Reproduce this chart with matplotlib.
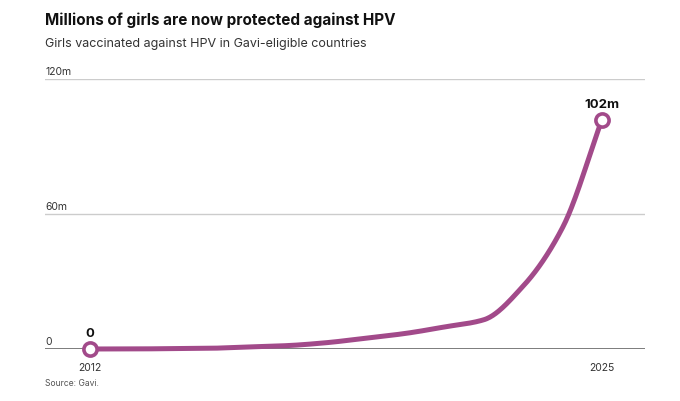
import matplotlib.pyplot as plt
import numpy as np

plt.rcParams["font.family"] = ["Inter", "DejaVu Sans"]

# data (millions of girls vaccinated)
years = [2012, 2013, 2014, 2015, 2016, 2017, 2018, 2019, 2020, 2021, 2022, 2023, 2024, 2025]
girls_m = [0, 0.02, 0.15, 0.3, 0.9, 1.5, 2.8, 4.8, 6.9, 9.8, 13.0, 28, 54, 102]
y_ticks = [0, 60, 120]
y_labels = ["0", "60m", "120m"]

LINE = "#a24a8a"


def monotone_curve(x, y, n=40):
    # Fritsch-Carlson monotone cubic, just for drawing the smooth line
    x = np.asarray(x, float)
    y = np.asarray(y, float)
    h = np.diff(x)
    d = np.diff(y) / h
    m = np.zeros_like(y)
    m[0], m[-1] = d[0], d[-1]
    for i in range(1, len(x) - 1):
        if d[i - 1] * d[i] > 0:
            w1 = 2 * h[i] + h[i - 1]
            w2 = h[i] + 2 * h[i - 1]
            m[i] = (w1 + w2) / (w1 / d[i - 1] + w2 / d[i])
    xs, ys = [], []
    for i in range(len(x) - 1):
        t = np.linspace(0, 1, n, endpoint=False)
        h00 = 2 * t**3 - 3 * t**2 + 1
        h10 = t**3 - 2 * t**2 + t
        h01 = -2 * t**3 + 3 * t**2
        h11 = t**3 - t**2
        xs.append(x[i] + t * h[i])
        ys.append(h00 * y[i] + h10 * h[i] * m[i] + h01 * y[i + 1] + h11 * h[i] * m[i + 1])
    xs.append([x[-1]])
    ys.append([y[-1]])
    return np.concatenate(xs), np.concatenate(ys)


fig = plt.figure(figsize=(6.8, 4.01), dpi=100)
ax = fig.add_axes([45 / 680, 52 / 401, 600 / 680, 270 / 401])

ax.set_xlim(2010.857, 2026.092)
ax.set_ylim(0, 120)

# gridlines
for v in y_ticks:
    if v == 0:
        ax.axhline(v, color="#666666", lw=1.2, zorder=1)
    else:
        ax.axhline(v, color="#cccccc", lw=1.0, zorder=1)

for v, lab in zip(y_ticks, y_labels):
    ax.annotate(lab, (0, v), xycoords=("axes fraction", "data"),
                xytext=(0, 3), textcoords="offset points",
                ha="left", va="baseline", fontsize=7.5, color="#333333")

cx, cy = monotone_curve(years, girls_m)
ax.plot(cx, cy, color=LINE, lw=3.6, solid_capstyle="round", zorder=3, clip_on=False)
ax.plot([years[0], years[-1]], [girls_m[0], girls_m[-1]], "o", ms=9.5,
        mfc="white", mec=LINE, mew=2.6, zorder=4, clip_on=False)

ax.annotate("0", (years[0], girls_m[0]), xytext=(0, 8.5), textcoords="offset points",
            ha="center", va="baseline", fontsize=9.5, fontweight="bold", color="#111111")
ax.annotate(f"{girls_m[-1]}m", (years[-1], girls_m[-1]), xytext=(0, 8.3),
            textcoords="offset points", ha="center", va="baseline",
            fontsize=9.5, fontweight="bold", color="#111111")

ax.set_xticks([years[0], years[-1]])
ax.set_xticklabels([str(years[0]), str(years[-1])], fontsize=7.5, color="#333333")
ax.tick_params(axis="x", length=0, pad=10)
ax.set_yticks([])
for s in ax.spines.values():
    s.set_visible(False)

fig.text(45 / 680, 1 - 20 / 401, "Millions of girls are now protected against HPV",
         fontsize=11, fontweight="bold", color="#111111", va="center", ha="left")
fig.text(45 / 680, 1 - 43.5 / 401, "Girls vaccinated against HPV in Gavi-eligible countries",
         fontsize=9, color="#333333", va="center", ha="left")
fig.text(45 / 680, 1 - 384 / 401, "Source: Gavi.", fontsize=6.2, color="#555555",
         va="center", ha="left")

fig.savefig("out.png", dpi=100)
